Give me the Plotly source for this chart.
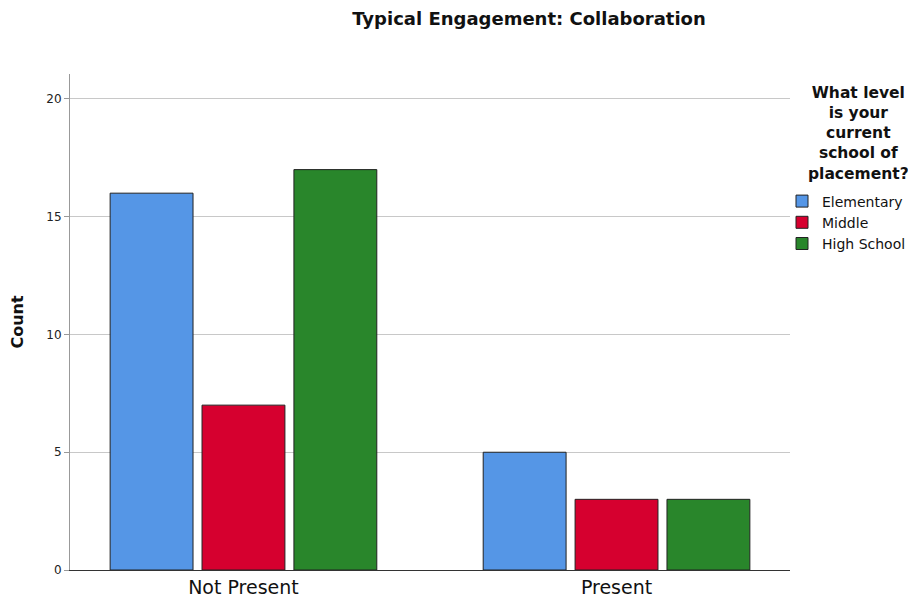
import plotly.graph_objects as go

categories = ["Not Present", "Present"]
series_names = ["Elementary", "Middle", "High School"]
elementary = [16, 5]
middle = [7, 3]
high_school = [17, 3]
series_values = [elementary, middle, high_school]
colors = ["#5596E6", "#D6002F", "#29862B"]
y_ticks = [0, 5, 10, 15, 20]

FONT = "DejaVu Sans"

# page body has an 8px margin, so the figure is laid out 8px in from the window edge
W, H = 908, 597
L, T = 62, 66
R = W - (790 - 8)
B = H - (570 - 8)
PH = H - T - B
PW = W - L - R

fig = go.Figure()
for name, vals, col in zip(series_names, series_values, colors):
    fig.add_trace(go.Bar(
        x=categories, y=vals, name=name,
        marker=dict(color=col, line=dict(color="#222222", width=1)),
    ))

fig.update_layout(
    width=W, height=H,
    margin=dict(l=L, r=R, t=T, b=B, autoexpand=False),
    paper_bgcolor="white", plot_bgcolor="white",
    barmode="group", bargap=0.261, bargroupgap=0.098,
    font=dict(family=FONT, color="#222222"),
    title=dict(text="<b>Typical Engagement: Collaboration</b>",
               x=(529 - 8) / W, xanchor="center", y=1 - 10.5 / H, yanchor="middle",
               font=dict(size=18, family=FONT, color="#111111")),
    showlegend=True,
    legend=dict(x=1 - 8 / PW, xanchor="left", y=1 - (177.5 - T) / PH, yanchor="top",
                font=dict(size=14, family=FONT, color="#111111"),
                itemwidth=30, tracegroupgap=0, bgcolor="rgba(0,0,0,0)",
                traceorder="normal"),
    xaxis=dict(range=[-0.465, 1.465], showgrid=False, showline=True,
               linecolor="#333333", linewidth=1, ticks="", automargin=False,
               tickfont=dict(size=19, family=FONT, color="#111111")),
    yaxis=dict(range=[0, 21.06], tickvals=y_ticks, showgrid=True,
               gridcolor="#C8C8C8", gridwidth=1, showline=True,
               linecolor="#999999", linewidth=1, ticks="outside",
               ticklen=5, tickcolor="#999999", zeroline=False, automargin=False,
               tickfont=dict(size=12, family=FONT, color="#222222"),
               title=dict(text="<b>Count</b>", standoff=23,
                          font=dict(size=16, family=FONT, color="#111111"))),
    annotations=[dict(
        text="<b>What level<br>is your<br>current<br>school of<br>placement?</b>",
        xref="paper", yref="paper", x=1 + (858 - 790) / PW, xanchor="center",
        y=1 - (74 - T) / PH, yanchor="top", showarrow=False, align="center",
        font=dict(size=15.5, family=FONT, color="#111111"))],
)

fig.write_html("out.html")
